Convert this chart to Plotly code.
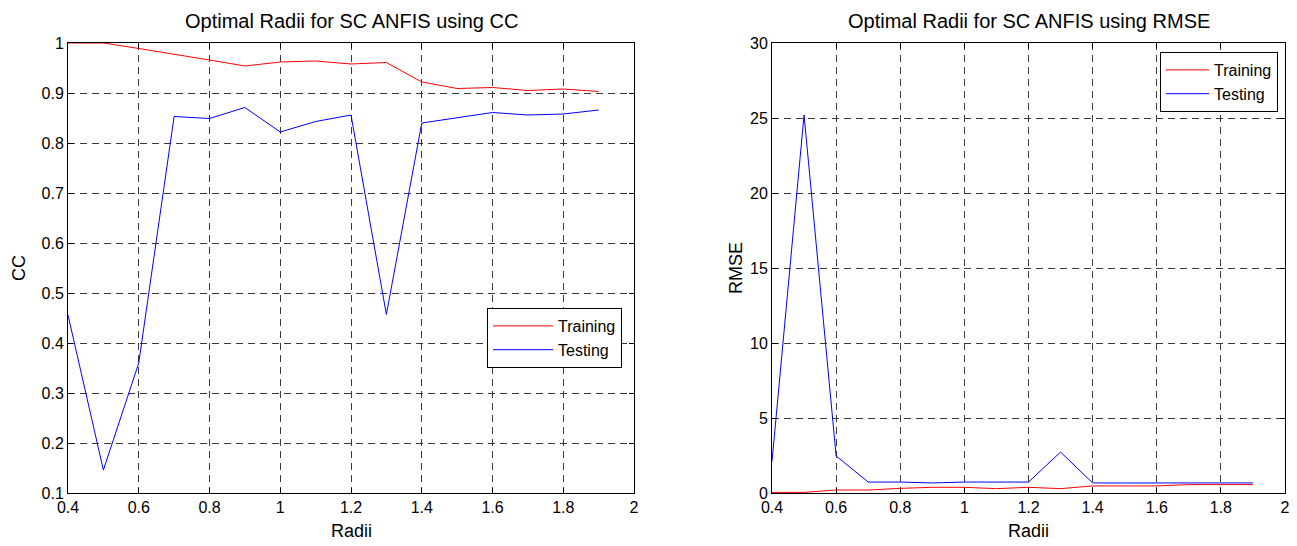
import plotly.graph_objects as go

# Cluster radius values tested for subtractive-clustering ANFIS
radii = [0.4, 0.5, 0.6, 0.7, 0.8, 0.9, 1.0, 1.1, 1.2, 1.3, 1.4, 1.5, 1.6, 1.7, 1.8, 1.9]

# Correlation coefficient per radius
cc_training = [1.0, 1.0, 0.989, 0.978, 0.966, 0.954, 0.962, 0.964, 0.958, 0.961,
               0.922, 0.909, 0.911, 0.905, 0.908, 0.903]
cc_testing = [0.456, 0.146, 0.36, 0.853, 0.849, 0.871, 0.822, 0.843, 0.856, 0.457,
              0.84, 0.851, 0.861, 0.856, 0.858, 0.866]

# Root mean square error per radius
rmse_training = [0.04, 0.04, 0.2, 0.2, 0.31, 0.38, 0.38, 0.29, 0.38, 0.29,
                 0.47, 0.47, 0.47, 0.56, 0.56, 0.56]
rmse_testing = [2.1, 25.2, 2.47, 0.73, 0.73, 0.67, 0.73, 0.73, 0.73, 2.73,
                0.67, 0.67, 0.67, 0.67, 0.67, 0.67]

x_ticks = [0.4, 0.6, 0.8, 1.0, 1.2, 1.4, 1.6, 1.8, 2.0]
x_tick_text = ["0.4", "0.6", "0.8", "1", "1.2", "1.4", "1.6", "1.8", "2"]
cc_ticks = [0.1, 0.2, 0.3, 0.4, 0.5, 0.6, 0.7, 0.8, 0.9, 1.0]
cc_tick_text = ["0.1", "0.2", "0.3", "0.4", "0.5", "0.6", "0.7", "0.8", "0.9", "1"]
rmse_ticks = [0, 5, 10, 15, 20, 25, 30]

FONT = "Liberation Sans, Arial, sans-serif"
RED = "#ff0000"
BLUE = "#0000ff"

fig = go.Figure()
fig.add_trace(go.Scatter(x=radii, y=cc_training, mode="lines", name="Training",
                         line=dict(color=RED, width=1), xaxis="x", yaxis="y", legend="legend"))
fig.add_trace(go.Scatter(x=radii, y=cc_testing, mode="lines", name="Testing",
                         line=dict(color=BLUE, width=1), xaxis="x", yaxis="y", legend="legend"))
fig.add_trace(go.Scatter(x=radii, y=rmse_training, mode="lines", name="Training",
                         line=dict(color=RED, width=1), xaxis="x2", yaxis="y2", legend="legend2"))
fig.add_trace(go.Scatter(x=radii, y=rmse_testing, mode="lines", name="Testing",
                         line=dict(color=BLUE, width=1), xaxis="x2", yaxis="y2", legend="legend2"))

W, H = 1297, 546
left_dom = [68 / W, 634 / W]
right_dom = [772 / W, 1285 / W]
y_dom = [(H - 493) / H, (H - 43) / H]

common_axis = dict(
    showline=True, linecolor="black", linewidth=1, mirror="allticks",
    ticks="inside", ticklen=5, tickcolor="black",
    showgrid=True, gridcolor="#3a3a3a", gridwidth=1, griddash="7px,5px",
    zeroline=False, automargin=False,
    tickfont=dict(family=FONT, size=16, color="black"),
)

title_font = dict(family=FONT, size=20, color="black")
label_font = dict(family=FONT, size=18, color="black")

fig.update_layout(
    width=W, height=H,
    margin=dict(l=0, r=0, t=0, b=0),
    paper_bgcolor="white", plot_bgcolor="white",
    font=dict(family=FONT, color="black"),
    xaxis=dict(domain=left_dom, anchor="y", range=[0.4, 2.0],
               tickvals=x_ticks, ticktext=x_tick_text, **common_axis),
    yaxis=dict(domain=y_dom, anchor="x", range=[0.1, 1.0],
               tickvals=cc_ticks, ticktext=cc_tick_text, **common_axis),
    xaxis2=dict(domain=right_dom, anchor="y2", range=[0.4, 2.0],
                tickvals=x_ticks, ticktext=x_tick_text, **common_axis),
    yaxis2=dict(domain=y_dom, anchor="x2", range=[0, 30],
                tickvals=rmse_ticks, **common_axis),
    legend=dict(x=622 / W, y=(H - 308) / H, xanchor="right", yanchor="top",
                bgcolor="white", bordercolor="black", borderwidth=1, itemwidth=60,
                font=dict(family=FONT, size=16), tracegroupgap=0),
    legend2=dict(x=1278 / W, y=(H - 52) / H, xanchor="right", yanchor="top",
                 bgcolor="white", bordercolor="black", borderwidth=1, itemwidth=43,
                 font=dict(family=FONT, size=16), tracegroupgap=0),
    annotations=[
        dict(text="Optimal Radii for SC ANFIS using CC", x=(left_dom[0] + left_dom[1]) / 2,
             y=(H - 21) / H, xref="paper", yref="paper", showarrow=False,
             font=title_font, xanchor="center", yanchor="middle"),
        dict(text="Optimal Radii for SC ANFIS using RMSE", x=(right_dom[0] + right_dom[1]) / 2,
             y=(H - 21) / H, xref="paper", yref="paper", showarrow=False,
             font=title_font, xanchor="center", yanchor="middle"),
        dict(text="Radii", x=(left_dom[0] + left_dom[1]) / 2, y=(H - 531) / H,
             xref="paper", yref="paper", showarrow=False, font=label_font,
             xanchor="center", yanchor="middle"),
        dict(text="Radii", x=(right_dom[0] + right_dom[1]) / 2, y=(H - 531) / H,
             xref="paper", yref="paper", showarrow=False, font=label_font,
             xanchor="center", yanchor="middle"),
        dict(text="CC", x=19 / W, y=(H - 268) / H, textangle=-90,
             xref="paper", yref="paper", showarrow=False, font=label_font,
             xanchor="center", yanchor="middle"),
        dict(text="RMSE", x=736 / W, y=(H - 268) / H, textangle=-90,
             xref="paper", yref="paper", showarrow=False, font=label_font,
             xanchor="center", yanchor="middle"),
    ],
)

fig.write_html("out.html")
